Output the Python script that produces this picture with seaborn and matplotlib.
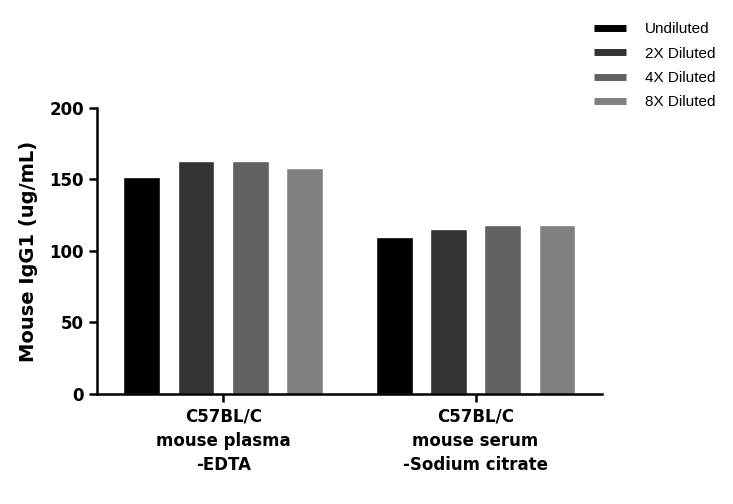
import pandas as pd
import seaborn as sns
import matplotlib.pyplot as plt
from matplotlib.lines import Line2D

samples = ["C57BL/C\nmouse plasma\n-EDTA", "C57BL/C\nmouse serum\n-Sodium citrate"]
dilutions = ["Undiluted", "2X Diluted", "4X Diluted", "8X Diluted"]
plasma = [152, 163, 163, 158]
serum = [110, 115.5, 118.5, 118.5]
colors = ["#000000", "#333333", "#616161", "#808080"]

df = pd.DataFrame({
    "Sample": [samples[0]] * 4 + [samples[1]] * 4,
    "Dilution": dilutions * 2,
    "Value": plasma + serum,
})

sns.set_style("ticks")
plt.rcParams['font.family'] = ['DejaVu Sans']
plt.rcParams['text.color'] = 'black'
plt.rcParams['axes.labelcolor'] = 'black'
plt.rcParams['xtick.color'] = 'black'
plt.rcParams['ytick.color'] = 'black'
plt.rcParams['axes.edgecolor'] = 'black'

fig = plt.figure(figsize=(7.33, 5.04), dpi=100)
ax = fig.add_axes([0.1323, 0.2183, 0.6887, 0.5674])
sns.barplot(data=df, x="Sample", y="Value", hue="Dilution", palette=colors,
            width=0.86, gap=0.32, saturation=1, errorbar=None, ax=ax, legend=False)

ax.set_ylim(0, 200)
ax.set_yticks([0, 50, 100, 150, 200])
ax.set_xlim(-0.5, 1.5)
ax.set_xlabel("")
ax.set_ylabel("Mouse IgG1 (ug/mL)", fontsize=14, fontweight='bold', labelpad=8)
for lab in ax.get_yticklabels():
    lab.set_fontsize(12)
    lab.set_fontweight('bold')
for lab in ax.get_xticklabels():
    lab.set_fontsize(12)
    lab.set_fontweight('bold')
    lab.set_linespacing(1.45)
ax.tick_params(axis='both', width=1.8, length=6, color='black')
ax.tick_params(axis='x', pad=4)
sns.despine(ax=ax)
for s in ['left', 'bottom']:
    ax.spines[s].set_linewidth(1.8)

handles = [Line2D([0], [0], color=c, lw=5, solid_capstyle='butt') for c in colors]
fig.legend(handles, dilutions, loc='upper left', bbox_to_anchor=(0.792, 0.983),
           frameon=False, prop={'family': 'Liberation Sans', 'size': 11},
           handlelength=2.1, handletextpad=1.2, labelspacing=0.68)

fig.savefig("out.png", dpi=100)
